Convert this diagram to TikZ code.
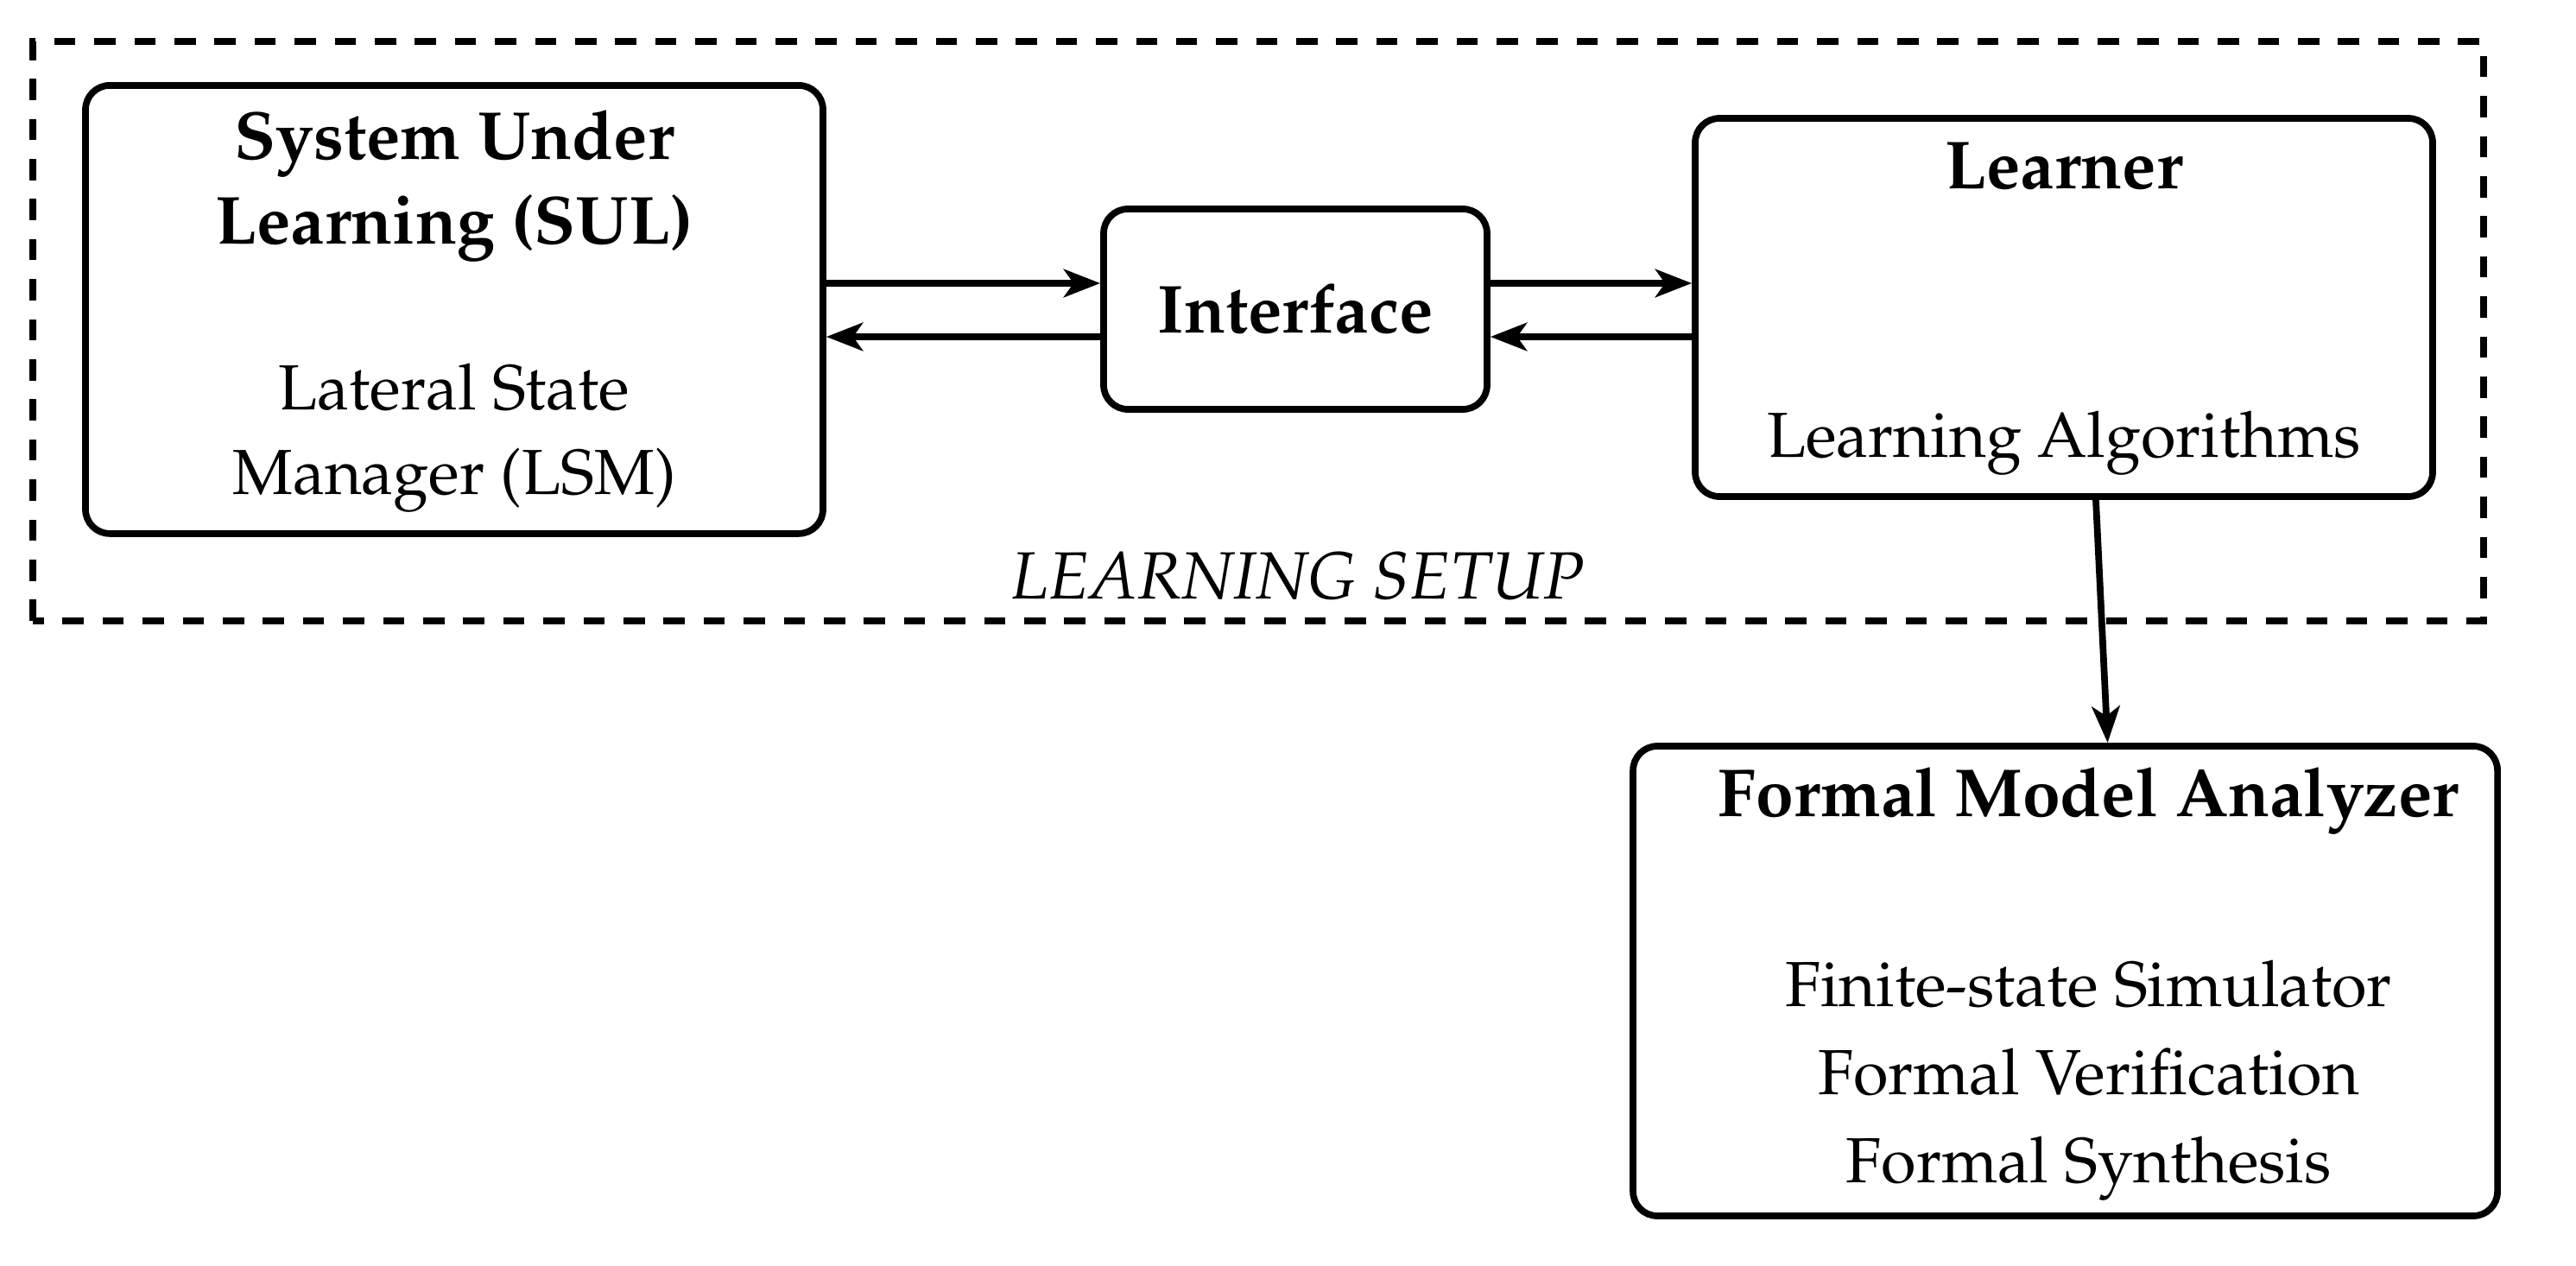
\documentclass[tikz,border=0pt]{standalone}
\usepackage[T1]{fontenc}
\usepackage{mathpazo}
\usetikzlibrary{arrows.meta}

\begin{document}
\begin{tikzpicture}[
	box/.style={draw, line width=1.1pt, rounded corners=4pt},
	conn/.style={line width=1.1pt, -{Stealth[length=6pt, width=4.6pt, inset=1.6pt]}},
	title/.style={font=\fontsize{11.2}{14}\selectfont\bfseries, align=center},
	body/.style={align=center, font=\fontsize{10.5}{14}\selectfont}
	]
	\useasboundingbox (0,0) rectangle (14.915,7.325);
	\draw[line width=1.1pt, dash pattern=on 3.5pt off 3.1pt] (0.19,3.73) rectangle (14.38,7.085);
	\node[box, minimum width=4.27cm, minimum height=2.595cm] (sul) at (2.63,5.533) {};
	\node[box, minimum width=2.22cm, minimum height=1.16cm] (iface) at (7.5,5.535) {};
	\node[box, minimum width=4.27cm, minimum height=2.19cm] (learner) at (11.95,5.545) {};
	\node[box, minimum width=5.005cm, minimum height=2.72cm] (fma) at (11.958,1.645) {};
	\node[title] (sultitle) at (2.63,6.25) {System Under\\Learning (SUL)};
	\node[body] (lsm) at (2.63,4.79) {Lateral State\\Manager (LSM)};
	\node[title] (ifacetitle) at (iface) {Interface};
	\node[title] (learnertitle) at (11.95,6.36) {Learner};
	\node[body] (algos) at (11.95,4.76) {Learning Algorithms};
	\node[title] (fmatitle) at (12.093,2.69) {Formal Model Analyzer};
	\node[body] (tools) at (12.093,1.07) {Finite-state Simulator\\[0.5pt]Formal Verification\\[0.5pt]Formal Synthesis};
	\node[font=\fontsize{11}{13}\selectfont\itshape] (setup) at (7.515,3.99) {LEARNING SETUP};
	\draw[conn] (sul.east |- 0,5.685) -- (iface.west |- 0,5.685);
	\draw[conn] (iface.west |- 0,5.375) -- (sul.east |- 0,5.375);
	\draw[conn] (iface.east |- 0,5.685) -- (learner.west |- 0,5.685);
	\draw[conn] (learner.west |- 0,5.375) -- (iface.east |- 0,5.375);
	\draw[conn] ([xshift=0.185cm]learner.south) -- ([xshift=0.245cm]fma.north);
\end{tikzpicture}
\end{document}
